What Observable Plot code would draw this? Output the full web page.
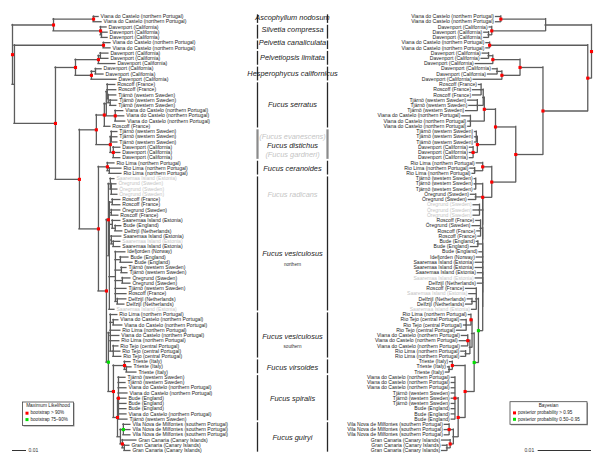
<!DOCTYPE html>
<html><head><meta charset="utf-8">
<script src="https://cdn.jsdelivr.net/npm/d3@7"></script>
<script src="https://cdn.jsdelivr.net/npm/@observablehq/plot@0.6"></script>
<style>
html,body{margin:0;padding:0;background:#fff;}
#fig{position:relative;width:600px;height:468px;font-family:"Liberation Sans",Arial,sans-serif;}
#fig svg{position:absolute;left:0;top:0;}
</style></head><body><div id="fig"></div>
<script>
// ---- tip labels ----
const VC="Viana do Castelo (northern Portugal)", DV="Davenport (California)", RO="Roscoff (France)",
      TJ="Tjärnö (western Sweden)", RL="Rio Lima (northern Portugal)", SA="Saaremaa Island (Estonia)",
      OR="Öregrund (Sweden)", BU="Bude (England)", DE="Delfzijl (Netherlands)", ID="Idefjorden (Norway)",
      RT="Rio Tejo (central Portugal)", TR="Trieste (Italy)", VN="Vila Nova de Milfontes (southern Portugal)",
      GC="Gran Canaria (Canary Islands)";

const mlTips=[VC,VC,DV,DV,DV,VC,VC,DV,DV,DV,DV,DV,DV,RO,RO,TJ,TJ,TJ,VC,VC,VC,RO,TJ,TJ,TJ,DV,DV,DV,RL,RL,RL,
  SA,OR,OR,OR,RO,RO,OR,RO,SA,BU,DE,SA,SA,SA,ID,BU,BU,TJ,TJ,OR,OR,TJ,RO,DE,DE,SA,
  RL,VC,VC,RL,VC,RL,RT,RT,RT,TR,TR,TR,TJ,TJ,VC,VC,BU,BU,BU,VC,TJ,VN,VN,VN,GC,GC,GC];
const mlGrey=[32,33,34,35,44,57];

const bayesTips=[VC,VC,DV,DV,DV,VC,VC,DV,DV,DV,DV,DV,DV,RO,RO,RO,TJ,TJ,TJ,VC,VC,VC,TJ,TJ,TJ,DV,DV,DV,RL,RL,RL,
  TJ,TJ,TJ,OR,OR,OR,OR,OR,RO,OR,RO,RO,BU,BU,BU,ID,SA,SA,SA,SA,DE,RO,SA,DE,DE,SA,
  RL,RT,RT,RT,VC,VC,VC,RL,RL,TR,TR,TR,VC,VC,VC,TJ,TJ,TJ,BU,BU,BU,VN,VN,VN,GC,GC,GC];
const bayesGrey=[37,38,39,51,54,57];

// ---- trees (tip numbers refer to the label lists; r = support > 90% / > 0.95, g = 75-90% / 0.50-0.95) ----
const mlNewick=`(
 ((1:0.0036,2:0.0057)r:0.0286,(3:0.0043,(4:0.0043,5:0.0043):0.0007)r:0.0336)r:0.0293,
 ((6:0.005,7:0.005)r:0.0636,
  ((((8:0.0057,9:0.0057):0.0014,10:0.0121)r:0.0164,((11:0.0043,12:0.0057):0.0029,13:0.0179)r:0.0114)r:0.0143,
   (((((14:0.0057,15:0.0064,(16:0.0057,(17:0.005,18:0.0043):0.0014):0.0007):0.0007,(19:0.0057,20:0.0064,21:0.0071)r:0.0064):0.0014,22:0.0043)r:0.0057,
     ((23:0.0043,24:0.0043,25:0.0043):0.0007,(26:0.005,27:0.005,28:0.005)r:0.0021)r:0.01)r:0.0121,
    ((29:0.005,(30:0.0086,31:0.0086):0.0014)r:0.0064,
     (
      ((32:0.0029,(33:0.0036,34:0.0043,35:0.0043):0.0007):0.0014,
       ((36:0.0057,37:0.0057):0.0021,(38:0.0064,39:0.005):0.0014,(40:0.0057,(41:0.0043,42:0.005):0.0021):0.0021,
        (43:0.0071,(44:0.005,45:0.005):0.0014):0.0014,
        (46:0.0071,(47:0.0057,48:0.0086):0.0036,(49:0.0036,50:0.0043):0.0043,(51:0.0057,52:0.0057):0.005,53:0.0079,54:0.0079,(55:0.0064,56:0.005):0.0014):0.0043,
        57:0.0036):0.0007)r:0.0014,
      ((58:0.005,(59:0.0036,60:0.0064):0.0021,61:0.0071,62:0.0064,63:0.0064,(64:0.0036,65:0.005,66:0.0057):0.0021):0.0014,
       ((67:0.0043,(68:0.0036,69:0.0071):0.0014)r:0.0079,
        ((70:0.005,71:0.005,72:0.0057,73:0.0064,74:0.0057,75:0.0057,76:0.0057,77:0.0057,78:0.0064)r:0.0007,
         ((79:0.005,80:0.005,81:0.005)g:0.0021,(82:0.01,(83:0.0036,84:0.0043):0.0014)r:0.0014):0.0021)r:0.0029)r:0.0036)g:0.0014
     )r:0.0057)r:0.0136)r:0.0171)r:0.0293):0.0014)r;`;

const bayesNewick=`(
 ((1:0.0009,2:0.0009)r:0.0084,(3:0.0004,(4:0.0008,5:0.0008):0.0006)r:0.0101):0.0086,
 ((6:0.0006,7:0.0006)r:0.0184,
  ((((8:0.0011,9:0.0013):0.0008,10:0.0032)r:0.0051,((11:0.0008,12:0.0017):0.0009,13:0.0053)r:0.0034)r:0.0043,
   (((((14:0.0004,15:0.0015,16:0.0015):0.0004,(17:0.0017,18:0.0015,19:0.0021):0.0011):0.0002,(20:0.0015,21:0.0004,22:0.0004):0.0026)r:0.0021,
     ((23:0.0002,24:0.0002,25:0.0002):0.0002,(26:0.0006,27:0.0006,28:0.0006)r:0.0008)r:0.0034)r:0.0038,
    ((29:0.0011,(30:0.0008,31:0.0004):0.0015)r:0.0017,
     ((32:0.0002,33:0.0002,34:0.0002):0.0013,
      ((35:0.0009,36:0.0013):0.0013,
      ((37:0.0011,38:0.0011,39:0.0011):0.0006,
      ((40:0.0008,41:0.0015,42:0.0006,43:0.0004):0.0004,
      ((44:0.0002,45:0.0013):0.0009,
      (46:0.0006,(47:0.0011,(48:0.0013,(49:0.0013,(50:0.0009,(51:0.0013,(52:0.0009,
      ((53:0.0019,54:0.0013,(55:0.0008,56:0.0011):0.0008,57:0.0008):0.0004,
       (((58:0.0004,(59:0.0009,60:0.0004,61:0.0017):0.0009)r:0.0002,((62:0.0011,63:0.0015,64:0.0011)r:0.0004,(65:0.0008,66:0.0008):0.0008):0.0004):0.0004,
        ((67:0.0004,(68:0.0002,69:0.0006):0.0006)r:0.0024,
         ((70:0.0006,71:0.0006,72:0.0006,73:0.0006,74:0.0006,75:0.0006,76:0.0006,77:0.0006,78:0.0006)r:0.0006,
          ((79:0.0008,80:0.0008,81:0.0008)r:0.0008,(82:0.0015,(83:0.0008,84:0.0009):0.0006)r:0.0006):0.0009)r:0.0013)r:0.0017)g:0.0008)g:0.0008
      ):0):0):0):0):0):0):0):0):0):0):0
     )r:0.0017)r:0.0045)r:0.0051)r:0.0084)r:0.0007)r;`;

// ---- centre column: species ----
const speciesLabels=["Ascophyllum nodosum","Silvetia compressa","Pelvetia canaliculata","Pelvetiopsis limitata",
  "Hesperophycus californicus","Fucus serratus","(Fucus evanescens)","Fucus distichus","(Fucus gardneri)",
  "Fucus ceranoides","Fucus radicans","Fucus vesiculosus","Fucus vesiculosus","Fucus virsoides","Fucus spiralis","Fucus guiryi"];
const speciesRow=[0.2,2.5,5.0,7.9,11,16.9,22.9,24.7,26.4,29.1,34,45.4,61.2,67.1,73.1,80.6];
const speciesGrey=["(Fucus evanescens)","(Fucus gardneri)","Fucus radicans"];
const subLabels=["northern","southern"];
const subRow=[47.4,63.2];
const barFrom=[1,3,6,8,11,14,23,29,32,58,67,70,79];
const barTo=[2,5,7,10,13,22,28,31,57,66,69,78,84];
const greyBar=[23];
const scaleBar=0.01;

// ---- newick parsing and layout ----
function layout(newick){
  const s=newick.replace(/\s+/g,"");
  let i=0;
  function parse(){
    const n={children:[],name:"",len:0};
    if(s[i]==="("){
      i++; n.children.push(parse());
      while(s[i]===","){i++; n.children.push(parse());}
      i++;
    }
    let name=""; while(i<s.length && !",():;".includes(s[i])) name+=s[i++];
    n.name=name;
    if(s[i]===":"){i++; let num=""; while(i<s.length && !",();".includes(s[i])) num+=s[i++]; n.len=+num;}
    return n;
  }
  const root=parse();
  const nodes=[],h=[],v=[];
  function walk(n,pd,isRoot){
    n.depth=isRoot?0:pd+n.len;
    if(n.children.length){
      n.children.forEach(c=>walk(c,n.depth,false));
      const a=n.children[0].y,b=n.children[n.children.length-1].y;
      n.y=(a+b)/2;
      v.push({x:n.depth,y1:a,y2:b});
    } else { n.tip=+n.name; n.y=n.tip-1; }
    if(!isRoot && n.len>0) h.push({x1:pd,x2:n.depth,y:n.y});
    nodes.push(n);
  }
  walk(root,0,true);
  return {nodes,h,v,tips:nodes.filter(n=>!n.children.length),support:nodes.filter(n=>n.name==="r"||n.name==="g")};
}

const FONT='"Liberation Sans", Arial, sans-serif';
const yScale={domain:[0,83],range:[16,450],axis:null};
const LINE="#5c5c5c";

function treePlot(tree,labels,grey,xs,right){
  return Plot.plot({
    width:600,height:468,margin:0,
    x:{...xs,axis:null}, y:yScale, color:{type:"identity"},
    style:{background:"transparent",fontFamily:FONT,overflow:"visible"},
    marks:[
      Plot.ruleX(tree.v,{x:"x",y1:"y1",y2:"y2",stroke:LINE,strokeWidth:1.3,strokeLinecap:"square"}),
      Plot.ruleY(tree.h,{y:"y",x1:"x1",x2:"x2",stroke:LINE,strokeWidth:1.3,strokeLinecap:"square"}),
      Plot.text(tree.tips,{x:"depth",y:"y",text:d=>labels[d.tip-1],textAnchor:right?"end":"start",dx:right?-2:2,
        fontSize:5.1,fill:d=>grey.includes(d.tip)?"#c4c4c4":"#222"}),
      Plot.dot(tree.support,{x:"depth",y:"y",symbol:"square",r:1.75,fill:d=>d.name==="r"?"#ff0000":"#00e000",stroke:"none"}),
      Plot.ruleY([83],{x1:0,x2:scaleBar,stroke:"#333",strokeWidth:1}),
      Plot.text([scaleBar],{x:scaleBar,y:83,text:d=>String(d),textAnchor:right?"end":"start",dx:right?-4:2,fontSize:5,fill:"#333"})
    ]
  });
}

const ml=layout(mlNewick), bayes=layout(bayesNewick);
const fig=document.getElementById("fig");
fig.append(treePlot(ml,mlTips,mlGrey,{domain:[0,0.1],range:[12,152]},false));
fig.append(treePlot(bayes,bayesTips,bayesGrey,{domain:[0,0.03],range:[591,431]},true));

const bars=barFrom.map((f,k)=>({from:f-1-0.32,to:barTo[k]-1+0.32,grey:greyBar.includes(f)}));
const bars2=bars.flatMap(b=>[{...b,side:"L"},{...b,side:"R"}]);
const spec=speciesLabels.map((t,k)=>({t,row:speciesRow[k]}));
const subs=subLabels.map((t,k)=>({t,row:subRow[k]}));
fig.append(Plot.plot({
  width:600,height:468,margin:0,
  x:{type:"point",domain:["L","C","R"],range:[239,345],axis:null}, y:yScale, color:{type:"identity"},
  style:{background:"transparent",fontFamily:FONT,overflow:"visible"},
  marks:[
    Plot.ruleX(bars2,{x:"side",y1:"from",y2:"to",stroke:d=>d.grey?"#8a8a8a":"#262626",strokeWidth:d=>d.grey?2.2:1.3}),
    Plot.text(spec,{x:()=>"C",y:"row",text:"t",fontSize:7.4,fontStyle:"italic",fill:d=>speciesGrey.includes(d.t)?"#c4c4c4":"#1a1a1a"}),
    Plot.text(subs,{x:()=>"C",y:"row",text:"t",fontSize:4.6,fill:"#333"})
  ]
}));

// ---- legends ----
const lg=d3.create("svg").attr("width",600).attr("height",468).style("font-family",FONT);
function legend(x,y,w,h,title,items){
  lg.append("rect").attr("x",x+1).attr("y",y+1).attr("width",w).attr("height",h).attr("fill","#999");
  lg.append("rect").attr("x",x).attr("y",y).attr("width",w).attr("height",h).attr("fill","#fff").attr("stroke","#444").attr("stroke-width",0.8);
  lg.append("text").attr("x",x+w/2).attr("y",y+4.2).attr("text-anchor","middle").attr("dominant-baseline","middle").attr("font-size",4.8).attr("fill","#222").text(title);
  items.forEach((it,k)=>{
    const yy=y+11.2+k*6.4;
    lg.append("rect").attr("x",x+3).attr("y",yy-1.5).attr("width",3).attr("height",3).attr("fill",it[0]);
    lg.append("text").attr("x",x+8).attr("y",yy).attr("dominant-baseline","middle").attr("font-size",4.6).attr("fill","#222").text(it[1]);
  });
}
legend(22.5,402,51,23.5,"Maximum Likelihood",[["#ff0000","bootstrap > 90%"],["#00e000","bootstrap 75–90%"]]);
legend(510,401.7,77,22.6,"Bayesian",[["#ff0000","posterior probability > 0.95"],["#00e000","posterior probability 0.50–0.95"]]);
fig.append(lg.node());
</script></body></html>
